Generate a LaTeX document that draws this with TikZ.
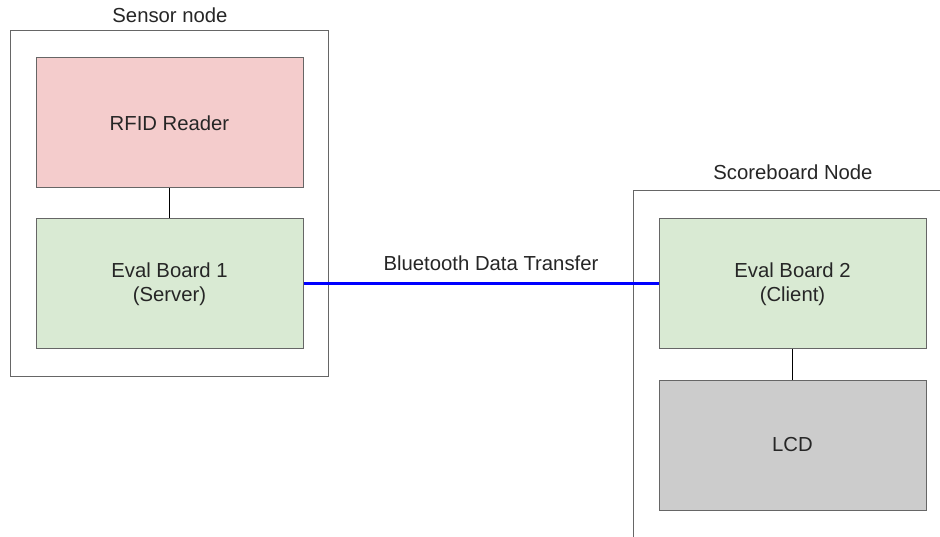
\documentclass[tikz,border=0pt]{standalone}
\usepackage{fontspec}
\setmainfont{Liberation Sans}
\begin{document}
\begin{tikzpicture}[x=1pt,y=-1pt,
  every node/.style={font=\fontsize{20.3}{24}\selectfont, text=black!85},
  group/.style={draw=black!60, line width=1pt, fill=none, inner sep=0pt},
  block/.style={draw=black!60, line width=1pt, minimum width=267pt, minimum height=130pt, align=center, inner sep=0pt},
  link/.style={draw=black, line width=1.3pt},
  radio/.style={draw=blue, line width=3pt}]
\useasboundingbox (0,0) rectangle (940,537);
\clip (0,0) rectangle (940,537);
\fill[white] (0,0) rectangle (940,537);
% enclosure boxes
\node[group, minimum width=318pt, minimum height=345pt] (sensor) at (169,203.5) {};
\node[group, minimum width=340pt, minimum height=380pt] (score) at (803,381) {};
\node (sensorlbl) at (170,15) {Sensor node};
\node (scorelbl) at (793,172) {Scoreboard Node};
% component blocks
\node[block, fill={rgb,255:red,244;green,204;blue,204}] (rfid) at (169.5,123) {RFID Reader};
\node[block, fill={rgb,255:red,217;green,234;blue,211}] (eval1) at (169.5,284) {Eval Board 1\\(Server)};
\node[block, fill={rgb,255:red,217;green,234;blue,211}] (eval2) at (792.5,284) {Eval Board 2\\(Client)};
\node[block, fill={rgb,255:red,204;green,204;blue,204}] (lcd) at (792.5,445) {LCD};
% connections
\draw[link] (rfid) -- (eval1);
\draw[link] (eval2) -- (lcd);
\draw[radio] (eval1.east) -- (eval2.west)
  node[midway, above=8pt, xshift=10pt, draw=none] (btlbl) {Bluetooth Data Transfer};
\end{tikzpicture}
\end{document}
